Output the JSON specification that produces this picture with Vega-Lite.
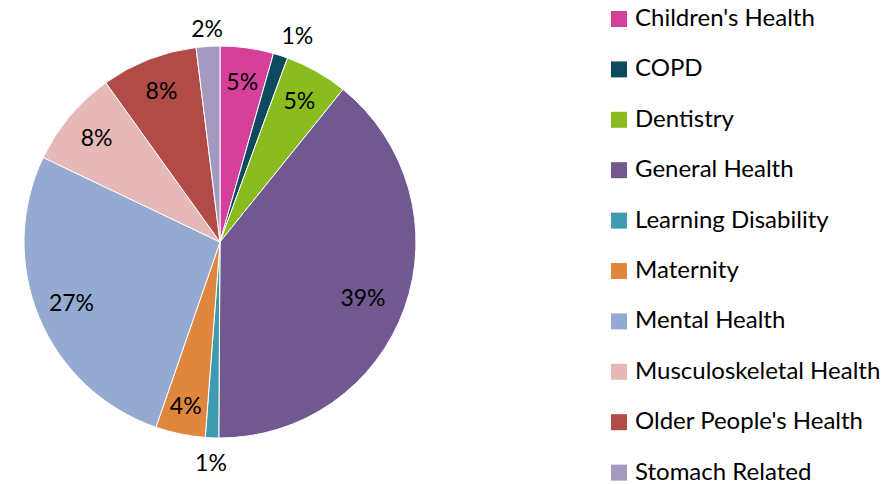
{
  "$schema": "https://vega.github.io/schema/vega-lite/v6.json",
  "width": 440,
  "height": 484,
  "padding": 0,
  "background": "white",
  "config": {"view": {"stroke": null}, "font": "Lato"},
  "data": {"values": [
    {"category": "Children's Health", "value": 4.4, "label": "5%", "order": 1},
    {"category": "COPD", "value": 1.2, "label": "1%", "order": 2},
    {"category": "Dentistry", "value": 5.2, "label": "5%", "order": 3},
    {"category": "General Health", "value": 39.3, "label": "39%", "order": 4},
    {"category": "Learning Disability", "value": 1.1, "label": "1%", "order": 5},
    {"category": "Maternity", "value": 4.1, "label": "4%", "order": 6},
    {"category": "Mental Health", "value": 26.8, "label": "27%", "order": 7},
    {"category": "Musculoskeletal Health", "value": 8.0, "label": "8%", "order": 8},
    {"category": "Older People's Health", "value": 7.95, "label": "8%", "order": 9},
    {"category": "Stomach Related", "value": 1.95, "label": "2%", "order": 10}
  ]},
  "encoding": {
    "theta": {"field": "value", "type": "quantitative", "stack": true},
    "order": {"field": "order", "type": "quantitative"}
  },
  "layer": [
    {
      "mark": {"type": "arc", "outerRadius": 196, "stroke": "white", "strokeWidth": 1},
      "encoding": {
        "color": {
          "field": "category", "type": "nominal",
          "sort": ["Children's Health", "COPD", "Dentistry", "General Health", "Learning Disability", "Maternity", "Mental Health", "Musculoskeletal Health", "Older People's Health", "Stomach Related"],
          "scale": {
            "domain": ["Children's Health", "COPD", "Dentistry", "General Health", "Learning Disability", "Maternity", "Mental Health", "Musculoskeletal Health", "Older People's Health", "Stomach Related"],
            "range": ["#D6409A", "#0E4A5F", "#8BBC1F", "#715890", "#3F9AB0", "#E0873F", "#95AAD1", "#E6B8B7", "#B14B48", "#A699C0"]
          },
          "legend": {
            "orient": "none",
            "legendX": 607,
            "legendY": 7,
            "title": null,
            "symbolType": "square",
            "symbolSize": 256,
            "symbolStrokeWidth": 0,
            "symbolOffset": 0,
            "labelFont": "Lato",
            "labelFontSize": 24,
            "labelColor": "#000000",
            "labelOffset": 4,
            "rowPadding": 26.4,
            "padding": 0,
            "labelLimit": 400
          }
        }
      }
    },
    {
      "mark": {"type": "text", "radius": 161, "fontSize": 23, "font": "Lato", "color": "#000000"},
      "encoding": {
        "text": {"condition": {"test": "datum.value >= 2.5 && datum.category != 'Maternity' && datum.category != 'General Health'", "field": "label"}, "value": ""}
      }
    },
    {
      "mark": {"type": "text", "radius": 156, "dx": -4, "dy": 5, "fontSize": 23, "font": "Lato", "color": "#000000"},
      "encoding": {
        "text": {"condition": {"test": "datum.category == 'General Health'", "field": "label"}, "value": ""}
      }
    },
    {
      "mark": {"type": "text", "radius": 169, "fontSize": 23, "font": "Lato", "color": "#000000"},
      "encoding": {
        "text": {"condition": {"test": "datum.category == 'Maternity'", "field": "label"}, "value": ""}
      }
    },
    {
      "mark": {"type": "text", "radius": 218, "dx": 10, "dy": 2, "fontSize": 23, "font": "Lato", "color": "#000000"},
      "encoding": {
        "text": {"condition": {"test": "datum.category == 'COPD'", "field": "label"}, "value": ""}
      }
    },
    {
      "mark": {"type": "text", "radius": 222, "fontSize": 23, "font": "Lato", "color": "#000000"},
      "encoding": {
        "text": {"condition": {"test": "datum.category == 'Learning Disability'", "field": "label"}, "value": ""}
      }
    },
    {
      "mark": {"type": "text", "radius": 212, "fontSize": 23, "font": "Lato", "color": "#000000"},
      "encoding": {
        "text": {"condition": {"test": "datum.category == 'Stomach Related'", "field": "label"}, "value": ""}
      }
    }
  ]
}
